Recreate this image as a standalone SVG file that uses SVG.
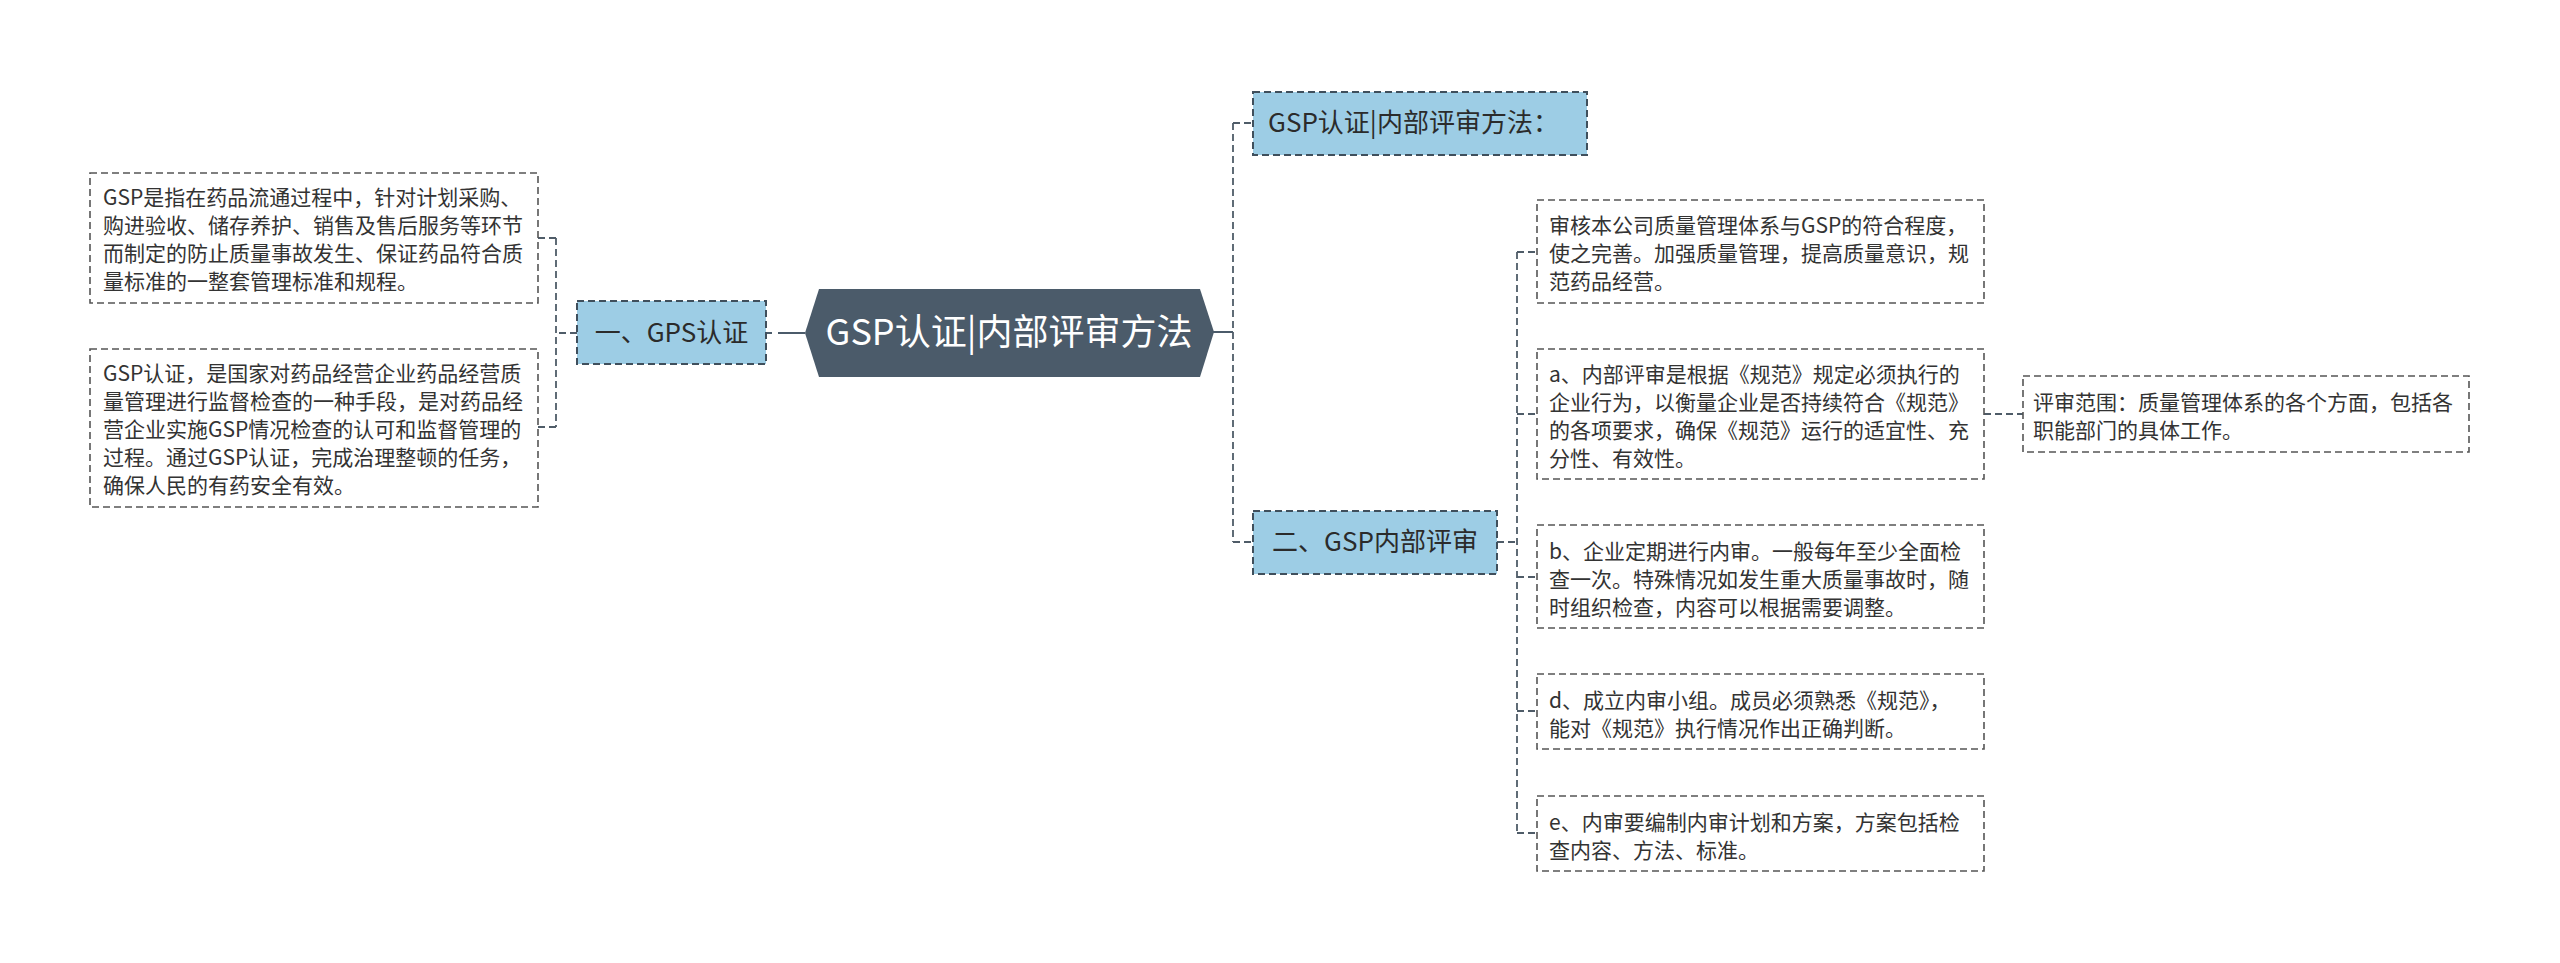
<svg xmlns="http://www.w3.org/2000/svg" width="2560" height="963" viewBox="0 0 2560 963">
<style>
text{font-family:"Noto Sans CJK SC","Noto Sans",sans-serif;fill:#333}
.t{font-size:21px}
.sub{fill:#9dcde5;stroke:#3f4f5c;stroke-width:2;stroke-dasharray:7 4}
.sub-t{font-size:26px;fill:#2b2b2b}
.leaf{fill:#fff;stroke:#555;stroke-width:1.6;stroke-dasharray:7 4}
.root{fill:#4b5b6a}
.root-t{font-size:36px;fill:#fff}
.dash{fill:none;stroke:#4f5c68;stroke-width:1.8;stroke-dasharray:7 4}
.solid{fill:none;stroke:#4b5b6a;stroke-width:2}
</style>
<rect width="2560" height="963" fill="#fff"/>
<g id="connectors">
<path class="solid" d="M767,333 H772 M778,333 H805"/>
<path class="solid" d="M1213,332 H1233"/>
<path class="dash" d="M577,333 H556 M556,238 V427 M538,238 H556 M538,427 H556"/>
<path class="dash" d="M1233,123 V542 M1233,123 H1253 M1233,542 H1253"/>
<path class="dash" d="M1497,542 H1517 M1517,252 V833 M1517,252 H1537 M1517,414 H1537 M1517,577 H1537 M1517,711 H1537 M1517,833 H1537"/>
<path class="dash" d="M1984,414 H2023"/>
</g>
<g id="root">
<polygon class="root" points="805,333 819,289 1200,289 1214,332 1200,377 819,377"/>
<text class="root-t" x="1009" y="345" text-anchor="middle">GSP认证|内部评审方法</text>
</g>
<g id="n-gps">
<rect class="sub" x="577" y="301" width="189" height="63"/>
<text class="sub-t" x="671.5" y="342" text-anchor="middle">一、GPS认证</text>
</g>
<g id="n-def">
<rect class="leaf" x="90" y="173" width="448" height="130"/>
<text class="t" x="103"><tspan x="103" y="205">GSP是指在药品流通过程中，针对计划采购、</tspan><tspan x="103" y="233">购进验收、储存养护、销售及售后服务等环节</tspan><tspan x="103" y="261">而制定的防止质量事故发生、保证药品符合质</tspan><tspan x="103" y="289">量标准的一整套管理标准和规程。</tspan></text>
</g>
<g id="n-cert">
<rect class="leaf" x="90" y="349" width="448" height="158"/>
<text class="t" x="103"><tspan x="103" y="381">GSP认证，是国家对药品经营企业药品经营质</tspan><tspan x="103" y="409">量管理进行监督检查的一种手段，是对药品经</tspan><tspan x="103" y="437">营企业实施GSP情况检查的认可和监督管理的</tspan><tspan x="103" y="465">过程。通过GSP认证，完成治理整顿的任务，</tspan><tspan x="103" y="493">确保人民的有药安全有效。</tspan></text>
</g>
<g id="n-method">
<rect class="sub" x="1253" y="92" width="334" height="63"/>
<text class="sub-t" x="1268" y="132">GSP认证|内部评审方法：</text>
</g>
<g id="n-internal">
<rect class="sub" x="1253" y="511" width="244" height="63"/>
<text class="sub-t" x="1375" y="551" text-anchor="middle">二、GSP内部评审</text>
</g>
<g id="n-audit">
<rect class="leaf" x="1537" y="200" width="447" height="103"/>
<text class="t"><tspan x="1549" y="233">审核本公司质量管理体系与GSP的符合程度，</tspan><tspan x="1549" y="261">使之完善。加强质量管理，提高质量意识，规</tspan><tspan x="1549" y="289">范药品经营。</tspan></text>
</g>
<g id="n-a">
<rect class="leaf" x="1537" y="349" width="447" height="130"/>
<text class="t"><tspan x="1549" y="382">a、内部评审是根据《规范》规定必须执行的</tspan><tspan x="1549" y="410">企业行为，以衡量企业是否持续符合《规范》</tspan><tspan x="1549" y="438">的各项要求，确保《规范》运行的适宜性、充</tspan><tspan x="1549" y="466">分性、有效性。</tspan></text>
</g>
<g id="n-scope">
<rect class="leaf" x="2023" y="376" width="446" height="76"/>
<text class="t"><tspan x="2033" y="410">评审范围：质量管理体系的各个方面，包括各</tspan><tspan x="2033" y="438">职能部门的具体工作。</tspan></text>
</g>
<g id="n-b">
<rect class="leaf" x="1537" y="525" width="447" height="103"/>
<text class="t"><tspan x="1549" y="559">b、企业定期进行内审。一般每年至少全面检</tspan><tspan x="1549" y="587">查一次。特殊情况如发生重大质量事故时，随</tspan><tspan x="1549" y="615">时组织检查，内容可以根据需要调整。</tspan></text>
</g>
<g id="n-d">
<rect class="leaf" x="1537" y="674" width="447" height="75"/>
<text class="t"><tspan x="1549" y="708">d、成立内审小组。成员必须熟悉《规范》，</tspan><tspan x="1549" y="736">能对《规范》执行情况作出正确判断。</tspan></text>
</g>
<g id="n-e">
<rect class="leaf" x="1537" y="796" width="447" height="75"/>
<text class="t"><tspan x="1549" y="830">e、内审要编制内审计划和方案，方案包括检</tspan><tspan x="1549" y="858">查内容、方法、标准。</tspan></text>
</g>
</svg>
